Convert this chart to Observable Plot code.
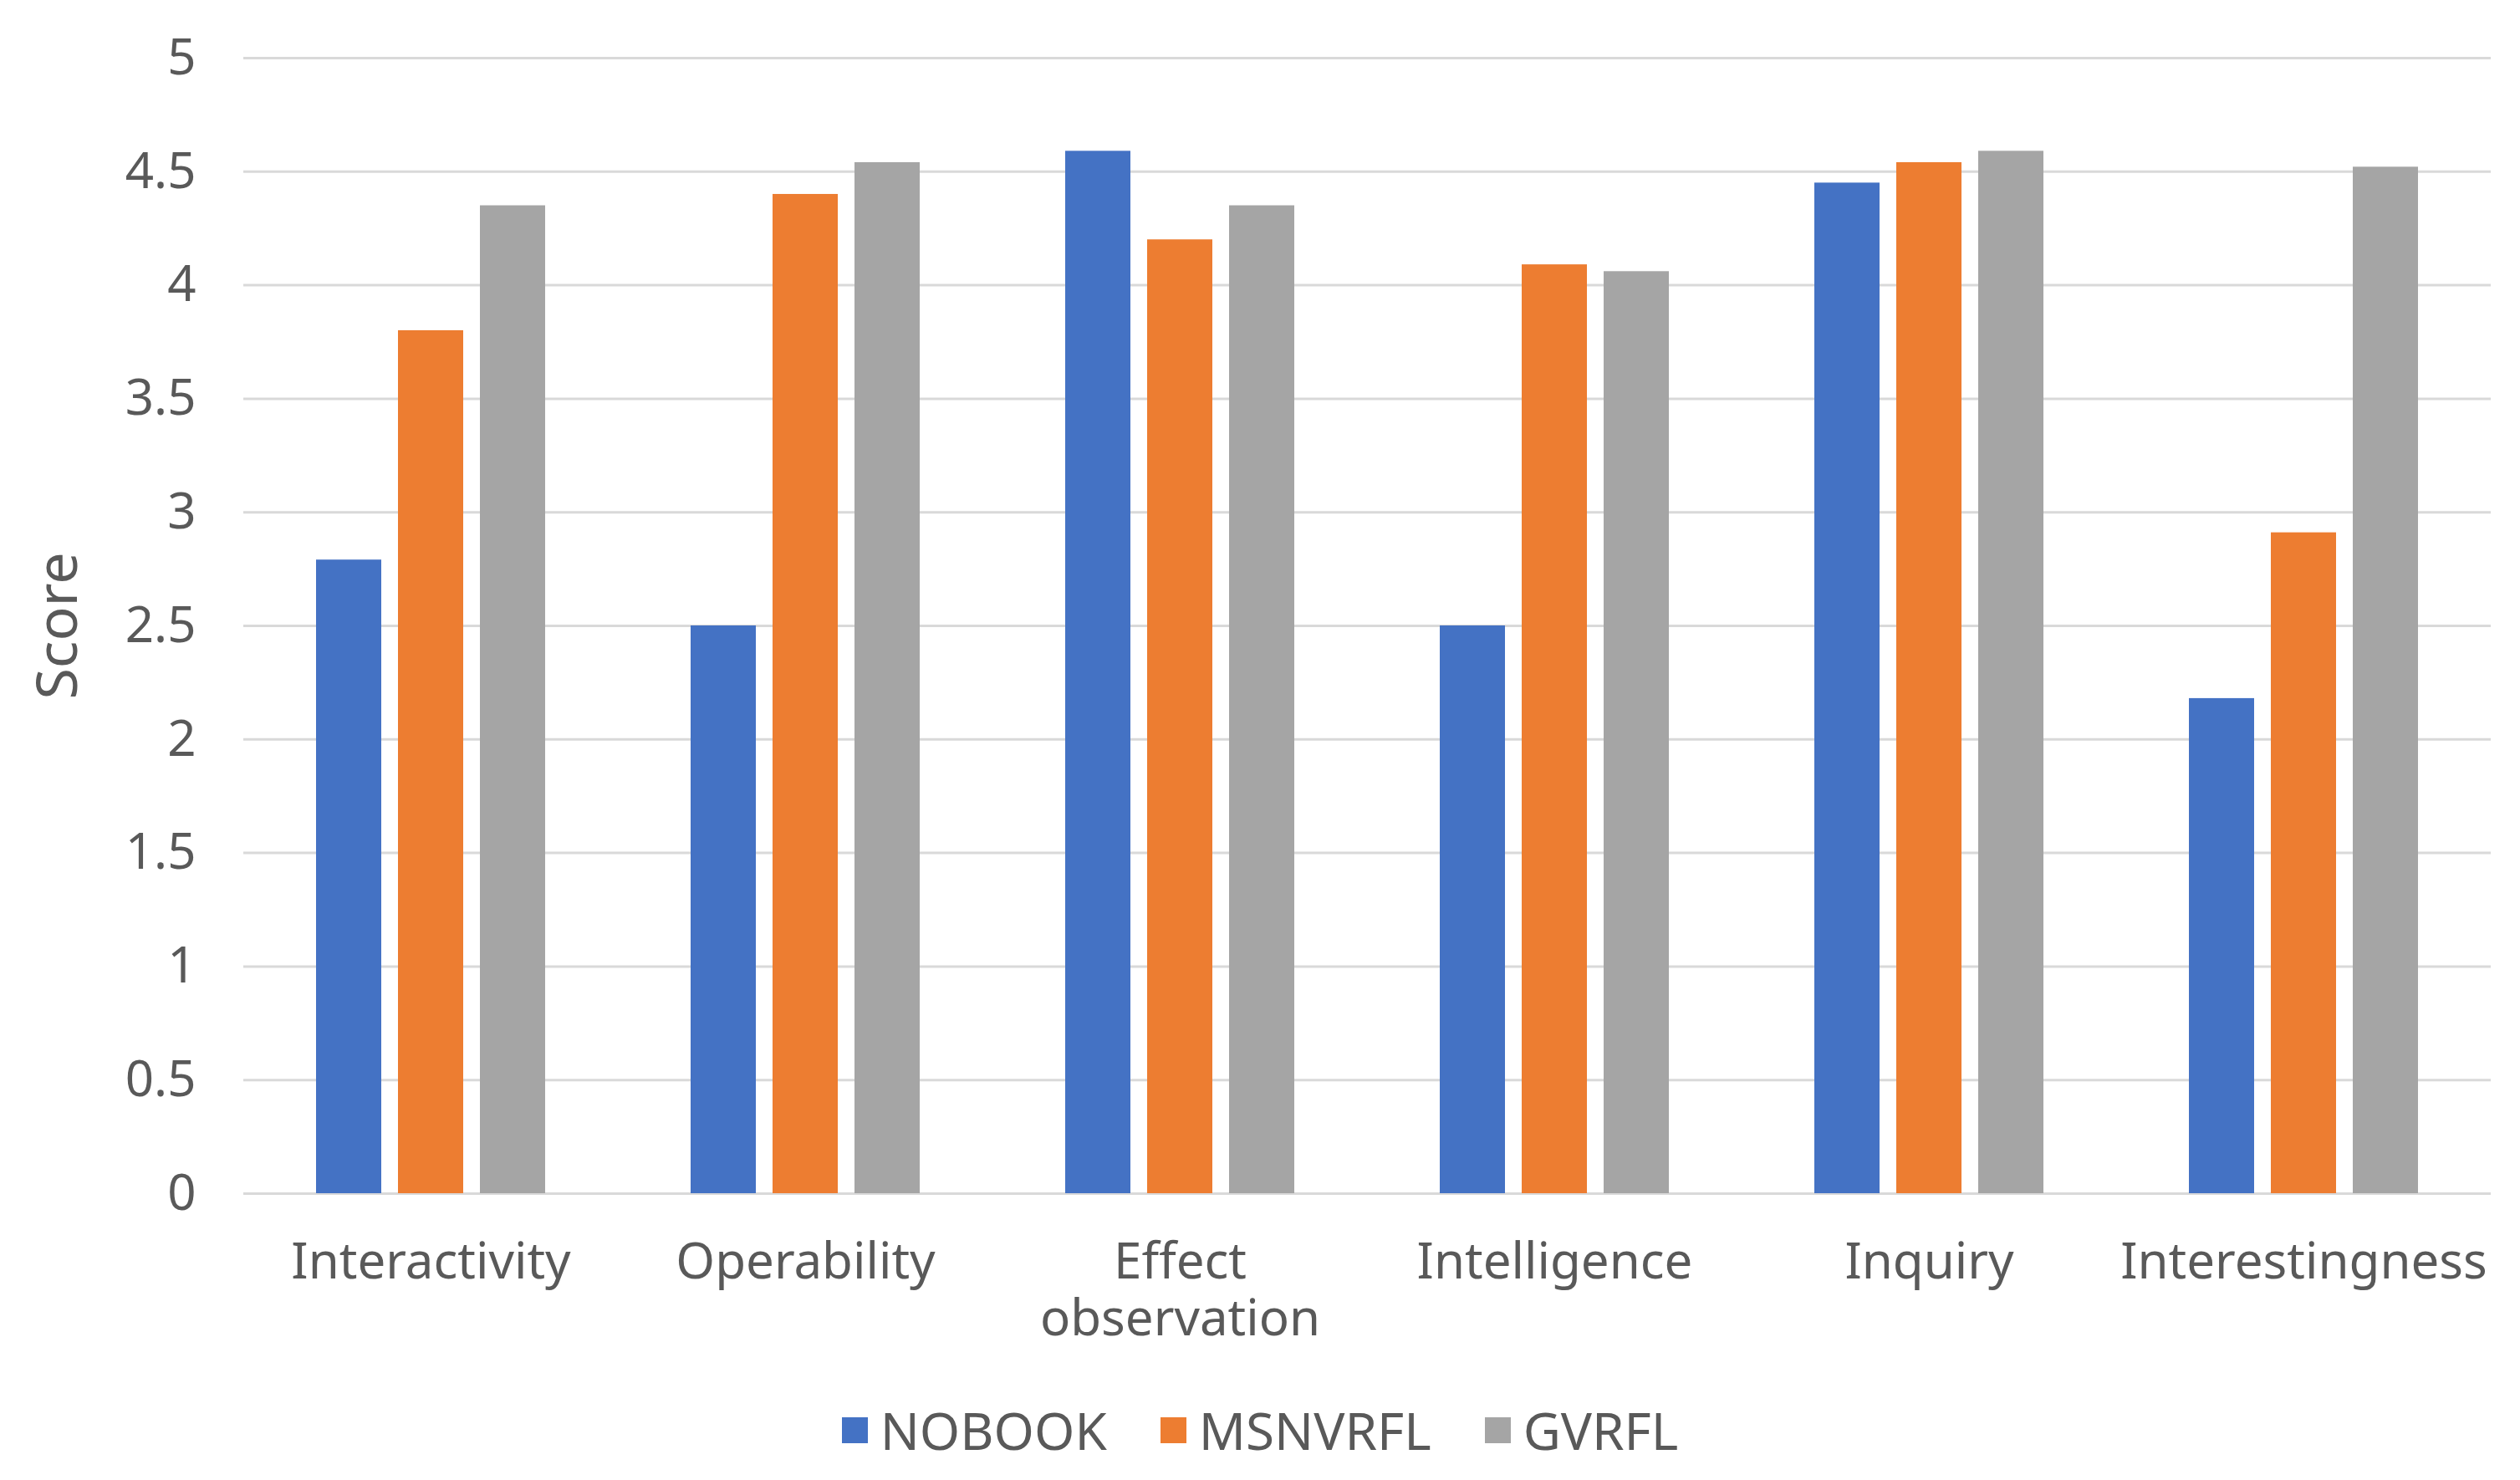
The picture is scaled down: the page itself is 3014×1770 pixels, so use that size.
<!DOCTYPE html>
<html>
<head>
<meta charset="utf-8">
<script src="https://cdn.jsdelivr.net/npm/d3@7"></script>
<script src="https://cdn.jsdelivr.net/npm/@observablehq/plot@0.6"></script>
<style>
  html, body { margin: 0; padding: 0; background: #ffffff; }
  #chart svg { display: block; }
  #legend {
    display: flex; justify-content: center; align-items: center;
    height: 120px; font-family: "Noto Sans", "Liberation Sans", sans-serif;
    font-size: 62px; color: #595959;
  }
  .item { display: flex; align-items: center; margin: 0 32px; }
  .sw { width: 31px; height: 31px; margin-right: 15px; }
</style>
</head>
<body>
<div id="chart"></div>
<div id="legend"></div>
<script>
const categories = ["Interactivity", "Operability", "Effect observation", "Intelligence", "Inquiry", "Interestingness"];
const series = ["NOBOOK", "MSNVRFL", "GVRFL"];
const nobook  = [2.79, 2.50, 4.59, 2.50, 4.45, 2.18];
const msnvrfl = [3.80, 4.40, 4.20, 4.09, 4.54, 2.91];
const gvrfl   = [4.35, 4.54, 4.35, 4.06, 4.59, 4.52];
const colors = ["#4472C4", "#ED7D31", "#A5A5A5"];
const yTicks = [0, 0.5, 1, 1.5, 2, 2.5, 3, 3.5, 4, 4.5, 5];

const seriesValues = [nobook, msnvrfl, gvrfl];
const data = categories.flatMap((c, i) =>
  series.map((s, j) => ({category: c, series: s, value: seriesValues[j][i]}))
);

const chart = Plot.plot({
  width: 3014,
  height: 1650,
  marginTop: 69,
  marginBottom: 223,
  marginLeft: 288,
  marginRight: 33,
  style: {fontFamily: "Noto Sans, Liberation Sans, sans-serif", fontSize: "60px", color: "#595959", background: "#ffffff"},
  fx: {domain: categories, padding: 0, label: null},
  x: {domain: series, paddingInner: 0.2, paddingOuter: 0.88, axis: null},
  y: {domain: [0, 5]},
  color: {domain: series, range: colors},
  marks: [
    Plot.gridY(yTicks, {stroke: "#D9D9D9", strokeOpacity: 1, strokeWidth: 3}),
    Plot.barY(data, {fx: "category", x: "series", y: "value", fill: "series"}),
    Plot.axisY(yTicks, {tickSize: 0, tickPadding: 57, fontSize: 60, fill: "#595959", label: null, tickFormat: d => String(d)}),
    Plot.axisY([], {label: "Score", labelAnchor: "center", labelArrow: "none", labelOffset: 248, fontSize: 68, fill: "#595959", tickSize: 0}),
    Plot.axisFx({anchor: "bottom", tickSize: 0, tickPadding: 53, fontSize: 60, lineHeight: 1.14, fill: "#595959", label: null,
      tickFormat: d => d === "Effect observation" ? "Effect\nobservation" : d})
  ]
});
document.getElementById("chart").appendChild(chart);

const legend = d3.select("#legend");
series.forEach((s, i) => {
  const item = legend.append("div").attr("class", "item");
  item.append("div").attr("class", "sw").style("background", colors[i]);
  item.append("span").text(s);
});
</script>
</body>
</html>
